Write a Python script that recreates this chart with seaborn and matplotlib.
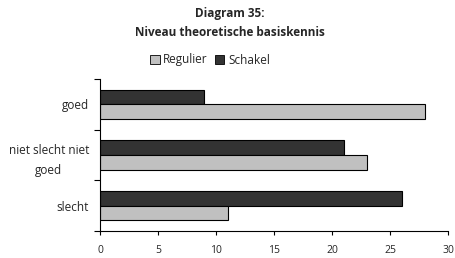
import pandas as pd
import matplotlib.pyplot as plt
import seaborn as sns
from matplotlib.patches import Patch

# Data
categories = ["goed", "niet slecht niet\ngoed", "slecht"]
regulier = [28, 23, 11]
schakel = [9, 21, 26]
x_ticks = [0, 5, 10, 15, 20, 25, 30]

colors = {"Schakel": "#333333", "Regulier": "#c0c0c0"}

df = pd.DataFrame({
    "categorie": categories * 2,
    "reeks": ["Schakel"] * 3 + ["Regulier"] * 3,
    "waarde": schakel + regulier,
})

sns.set_theme(style="white")
plt.rcParams['font.family'] = ['Open Sans', 'DejaVu Sans']

fig = plt.figure(figsize=(4.55, 2.58), dpi=100)
ax = fig.add_axes([100 / 455, 1 - 231 / 258, 348 / 455, 152 / 258])

sns.barplot(data=df, y="categorie", x="waarde", hue="reeks", order=categories,
            hue_order=["Schakel", "Regulier"], palette=colors, orient="h",
            width=0.58, edgecolor="black", linewidth=0.8, legend=False, ax=ax)

ax.set_xlim(0, 30)
ax.set_ylim(2.5, -0.5)
ax.set_xticks(x_ticks)
ax.set_xlabel("")
ax.set_ylabel("")
ax.tick_params(axis="x", direction="out", length=3, width=0.8, labelsize=7.5, pad=7, bottom=True, color="black")
ax.tick_params(axis="y", which="major", length=0, labelsize=8.5, pad=8)
ax.set_yticks([-0.5, 0.5, 1.5, 2.5], minor=True)
ax.tick_params(axis="y", which="minor", direction="out", length=4, width=0.8, left=True, color="black")
for lbl in ax.get_yticklabels():
    lbl.set_multialignment("center")
    lbl.set_linespacing(1.75)

for side in ["top", "right"]:
    ax.spines[side].set_visible(False)
for side in ["left", "bottom"]:
    ax.spines[side].set_color("black")
    ax.spines[side].set_linewidth(0.8)

fig.text(0.505, 1 - 14 / 258, "Diagram 35:", ha="center", va="center", fontsize=8.5, fontweight="bold")
fig.text(0.505, 1 - 32 / 258, "Niveau theoretische basiskennis", ha="center", va="center", fontsize=8.5, fontweight="bold")

handles = [Patch(facecolor=colors["Regulier"], edgecolor="black", linewidth=0.6, label="Regulier"),
           Patch(facecolor=colors["Schakel"], edgecolor="black", linewidth=0.6, label="Schakel")]
fig.legend(handles=handles, loc="center", bbox_to_anchor=(210 / 455, 1 - 60 / 258), ncol=2,
           frameon=False, fontsize=8.5, handlelength=0.8, handleheight=0.8, handletextpad=0.3,
           columnspacing=0.6, borderpad=0)

fig.savefig("out.png", dpi=100)
